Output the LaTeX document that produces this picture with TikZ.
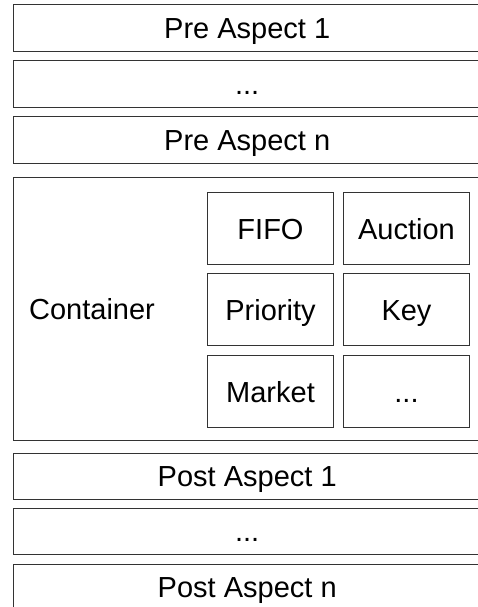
\documentclass[tikz,border=0pt]{standalone}
\usepackage{fontspec}
\setmainfont{Liberation Sans}
\begin{document}
\begin{tikzpicture}[x=1pt,y=-1pt,
  frame/.style={draw=black!80, line width=1pt},
  label text/.style={font=\fontsize{29}{34}\selectfont, text height=21pt, text depth=0pt},
  layer/.style={label text, rectangle, minimum width=468pt, minimum height=46pt, anchor=north west, inner sep=0pt},
  strategy/.style={label text, frame, rectangle, minimum width=126pt, minimum height=72pt, anchor=north west, inner sep=0pt}]
\useasboundingbox (0,0) rectangle (478,607);
\begin{scope}
\clip (0,0) rectangle (478,607);
% aspects applied before the container
\node[layer] (pre1) at (13,5) {Pre Aspect 1};
\node[layer] (pre2) at (13,61) {...};
\node[layer] (pren) at (13,117) {Pre Aspect n};
% container with its queueing strategies
\node[rectangle, minimum width=468pt, minimum height=263pt, anchor=north west, inner sep=0pt] (cont) at (13,177) {};
\node[label text] (contlabel) at (92,309) {Container};
\node[strategy] (fifo) at (207,192) {FIFO};
\node[strategy] (auction) at (343,192) {Auction};
\node[strategy] (priority) at (207,273) {Priority};
\node[strategy] (key) at (343,273) {Key};
\node[strategy] (market) at (207,355) {Market};
\node[strategy] (more) at (343,355) {...};
% aspects applied after the container
\node[layer] (post1) at (13,453) {Post Aspect 1};
\node[layer] (post2) at (13,508) {...};
\node[layer] (postn) at (13,564) {Post Aspect n};
% the wide frames run on past the right edge
\foreach \n in {pre1,pre2,pren,cont,post1,post2,postn}
  \draw[frame] (\n.north west) rectangle ([xshift=20pt]\n.south east);
\end{scope}
\end{tikzpicture}
\end{document}
